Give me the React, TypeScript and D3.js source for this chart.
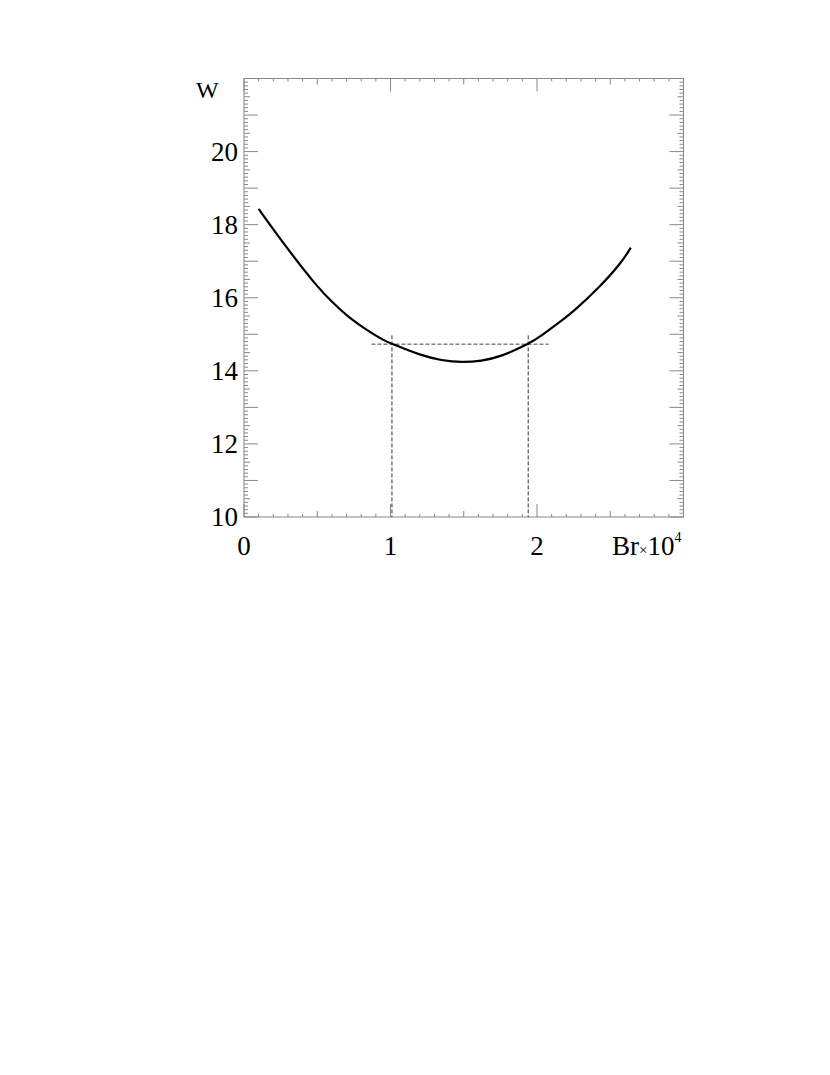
import React from "react";
import * as d3 from "d3";

const curveX = [0.1, 0.27, 0.5, 0.61, 0.72, 0.84, 0.95, 1.01, 1.2, 1.35, 1.49, 1.62, 1.75, 1.95, 2.02, 2.2, 2.25, 2.43, 2.58, 2.64];
const curveW = [18.43, 17.48, 16.29, 15.85, 15.44, 15.11, 14.84, 14.74, 14.43, 14.28, 14.23, 14.27, 14.38, 14.75, 14.93, 15.47, 15.63, 16.3, 16.98, 17.37];
const yTickLabels = [10, 12, 14, 16, 18, 20];
const xTickLabels = [0, 1, 2];
const hLine = { x0: 0.87, x1: 2.08, w: 14.73 };
const vLinesX = [1.01, 1.94];
const vLineTop = 14.97;

export default function App() {
  const L = 244, R = 683.5, T = 78.5, B = 517;
  const x = d3.scaleLinear().domain([0, 3]).range([L, R]);
  const y = d3.scaleLinear().domain([10, 22]).range([B, T]);
  const grey = "#888";
  const font = "'Liberation Serif', 'Times New Roman', serif";

  const line = d3
    .line<number>()
    .x((_, i) => x(curveX[i]))
    .y((d) => y(d))
    .curve(d3.curveBasis);

  const xTicks = d3.range(0, 30.001, 1).map((v) => v / 10);
  const yTicks = d3.range(100, 220.001, 1).map((v) => v / 10);

  const xLen = (v: number) => {
    const k = Math.round(v * 10);
    if (k % 10 === 0) return 13;
    if (k % 5 === 0) return 6;
    return 3;
  };
  const yLen = (v: number) => {
    const k = Math.round(v * 10);
    if (k % 10 === 0) return 14;
    if (k % 5 === 0) return 6;
    return 4;
  };

  return (
    <svg width={830} height={1075} style={{ position: "absolute", left: 0, top: 0 }}>
      <rect x={0} y={0} width={830} height={1075} fill="#fff" />
      {xTicks.map((v, i) => (
        <g key={"xt" + i} stroke={grey} strokeWidth={1}>
          <line x1={x(v)} x2={x(v)} y1={B} y2={B - xLen(v)} />
          <line x1={x(v)} x2={x(v)} y1={T} y2={T + xLen(v)} />
        </g>
      ))}
      {yTicks.map((v, i) => (
        <g key={"yt" + i} stroke={grey} strokeWidth={1}>
          <line x1={L} x2={L + yLen(v)} y1={y(v)} y2={y(v)} />
          <line x1={R} x2={R - yLen(v)} y1={y(v)} y2={y(v)} />
        </g>
      ))}
      <rect x={L} y={T} width={R - L} height={B - T} fill="none" stroke={grey} strokeWidth={1} />

      <line
        x1={x(hLine.x0)}
        x2={x(hLine.x1)}
        y1={y(hLine.w)}
        y2={y(hLine.w)}
        stroke="#444"
        strokeWidth={1}
        strokeDasharray="4,2"
      />
      {vLinesX.map((v, i) => (
        <line
          key={"vl" + i}
          x1={x(v)}
          x2={x(v)}
          y1={y(vLineTop)}
          y2={B}
          stroke="#333"
          strokeWidth={1}
          strokeDasharray="4,2"
        />
      ))}

      <path d={line(curveW) || ""} fill="none" stroke="#000" strokeWidth={2.2} />

      {yTickLabels.map((v) => (
        <text
          key={"yl" + v}
          x={238}
          y={y(v) + 9}
          textAnchor="end"
          fontFamily={font}
          fontSize={27}
          fill="#000"
        >
          {v}
        </text>
      ))}
      {xTickLabels.map((v) => (
        <text
          key={"xl" + v}
          x={x(v)}
          y={555}
          textAnchor="middle"
          fontFamily={font}
          fontSize={27}
          fill="#000"
        >
          {v}
        </text>
      ))}
      <text x={196} y={98} fontFamily={font} fontSize={24} fill="#000">
        W
      </text>
      <text x={612} y={555} fontFamily={font} fontSize={27} fill="#000">
        Br
        <tspan fontSize={15}>×</tspan>
        <tspan>10</tspan>
        <tspan fontSize={14} dy={-13}>4</tspan>
      </text>
    </svg>
  );
}
